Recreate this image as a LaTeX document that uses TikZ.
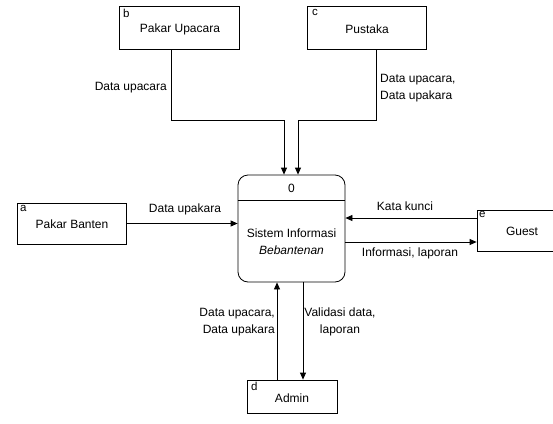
\documentclass[tikz,border=0pt]{standalone}
\usepackage{fontspec}
\setmainfont{Liberation Sans}
\usetikzlibrary{arrows.meta}
\begin{document}
\begin{tikzpicture}[x=1pt,y=-1pt,
  every node/.style={font=\fontsize{12}{17}\selectfont},
  ent/.style={draw,line width=0.8pt,inner sep=0pt},
  tag/.style={anchor=north west,inner sep=0pt,font=\fontsize{11.5}{13}\selectfont},
  lbl/.style={inner sep=0pt},
  arr/.style={line width=0.8pt,-{Triangle[length=7pt,width=6pt]}},
  ln/.style={line width=0.8pt}]
\useasboundingbox (0,0) rectangle (553,423);
% entities
\node[ent,minimum width=120pt,minimum height=43pt] (b) at (179,27.5) {};
\node[lbl] (bt) at (180,29) {Pakar Upacara};
\node[tag] (bl) at (123,9) {b};
\node[ent,minimum width=119pt,minimum height=43pt] (c) at (366.5,27.5) {};
\node[lbl] (ct) at (367,29) {Pustaka};
\node[tag] (cl) at (312,9) {c};
\node[ent,minimum width=109pt,minimum height=41pt] (a) at (71.5,223.5) {};
\node[lbl] (at) at (72,224) {Pakar Banten};
\node[tag] (al) at (20,205) {a};
\node[ent,minimum width=80pt,minimum height=41pt] (e) at (517,230.5) {};
\node[lbl] (et) at (522,231) {Guest};
\node[tag] (el) at (479,211) {e};
\node[ent,minimum width=90pt,minimum height=33pt] (d) at (292,396.5) {};
\node[lbl] (dt) at (292,398) {Admin};
\node[tag] (dl) at (251,382) {d};
% process
\node[ent,rounded corners=10pt,minimum width=107pt,minimum height=107pt] (p) at (291.5,228.5) {};
\draw[ln] (p.west |- 0,200) -- (p.east |- 0,200);
\node[lbl] (pn) at (291.5,188) {0};
\node[lbl] (pt1) at (291.5,233) {Sistem Informasi};
\node[lbl] (pt2) at (291.5,250) {\itshape Bebantenan};
% flows
\draw[arr] (171,0 |- b.south) -- (171,120) -- (284,120) -- (284,0 |- p.north);
\draw[arr] (376,0 |- c.south) -- (376,120) -- (298,120) -- (298,0 |- p.north);
\draw[arr] (a.east) -- (p.west |- a.east);
\draw[arr] (e.west |- 0,218) -- (p.east |- 0,218);
\draw[arr] (p.east |- 0,242) -- (e.west |- 0,242);
\draw[arr] (277,0 |- d.north) -- (277,0 |- p.south);
\draw[arr] (303,0 |- p.south) -- (303,0 |- d.north);
% labels
\node[lbl,anchor=east] (l1) at (167,88) {Data upacara};
\node[lbl,anchor=west,align=left] (l2) at (380,88.5) {Data upacara,\\Data upakara};
\node[lbl] (l3) at (185,209) {Data upakara};
\node[lbl] (l4) at (405,206) {Kata kunci};
\node[lbl] (l5) at (410,253) {Informasi, laporan};
\node[lbl,anchor=east,align=right] (l6) at (275,322) {Data upacara,\\Data upakara};
\node[lbl,align=center] (l7) at (340,322) {Validasi data,\\laporan};
\end{tikzpicture}
\end{document}
